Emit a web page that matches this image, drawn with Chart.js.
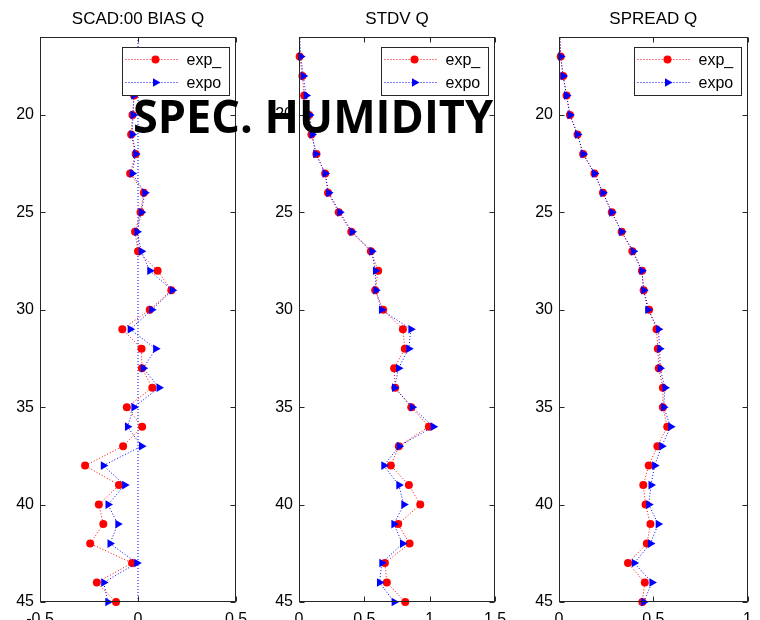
<!DOCTYPE html>
<html><head><meta charset="utf-8">
<script src="https://cdn.jsdelivr.net/npm/chart.js@4.4.1/dist/chart.umd.min.js"></script>
<style>
html,body{margin:0;padding:0;background:#fff;overflow:hidden;width:760px;height:620px}
canvas{position:absolute;left:0;top:0;width:760px;height:620px}
</style></head><body>
<canvas id="c1" width="760" height="620"></canvas>
<canvas id="c2" width="760" height="620"></canvas>
<canvas id="c3" width="760" height="620"></canvas>
<script>
// ---------- data ----------
const levels = [17,18,19,20,21,22,23,24,25,26,27,28,29,30,31,32,33,34,35,36,37,38,39,40,41,42,43,44,45];
const leadLevel = 15; // line enters from above the plot top in panels 2 and 3
const leadValue = 0;

const biasExp  = [-0.01,-0.02,-0.02,-0.028,-0.035,-0.012,-0.04,0.03,0.013,-0.015,0.0,0.10,0.17,0.06,-0.08,0.018,0.02,0.073,-0.057,0.021,-0.076,-0.27,-0.097,-0.20,-0.177,-0.244,-0.03,-0.21,-0.112];
const biasExpo = [-0.01,-0.015,-0.021,-0.025,-0.03,-0.012,-0.03,0.035,0.017,-0.005,0.017,0.06,0.175,0.07,-0.04,0.09,0.027,0.107,-0.021,-0.054,0.018,-0.177,-0.068,-0.153,-0.103,-0.143,-0.006,-0.175,-0.154];

const stdvExp  = [0.005,0.026,0.04,0.077,0.095,0.133,0.2,0.222,0.304,0.40,0.55,0.606,0.583,0.644,0.795,0.81,0.728,0.736,0.859,0.994,0.764,0.703,0.841,0.928,0.759,0.846,0.657,0.672,0.813];
const stdvExpo = [0.013,0.033,0.054,0.082,0.10,0.128,0.2,0.227,0.312,0.406,0.557,0.585,0.588,0.631,0.856,0.84,0.762,0.731,0.866,1.027,0.767,0.649,0.764,0.802,0.726,0.792,0.634,0.616,0.728];

const sprdExp  = [0.009,0.022,0.04,0.058,0.098,0.128,0.188,0.233,0.28,0.332,0.389,0.44,0.449,0.478,0.517,0.524,0.529,0.551,0.551,0.574,0.522,0.476,0.447,0.459,0.485,0.466,0.366,0.455,0.442];
const sprdExpo = [0.009,0.022,0.04,0.058,0.098,0.128,0.188,0.233,0.28,0.332,0.394,0.44,0.449,0.471,0.527,0.534,0.536,0.562,0.555,0.592,0.545,0.507,0.488,0.476,0.526,0.485,0.399,0.493,0.449];

const zeroLineX = [0, 0];
const zeroLineY = [16, 45];

const yTicks = [20,25,30,35,40,45];
const xTicks1 = [-0.5,0,0.5];
const xTicks2 = [0,0.5,1,1.5];
const xTicks3 = [0,0.5,1];
const titles = ['SCAD:00 BIAS Q','STDV Q','SPREAD Q'];
const seriesNames = ['exp_','expo'];
const overlayText = 'SPEC. HUMIDITY';

// ---------- rendering ----------
const FONT = "'Liberation Sans', Arial, Helvetica, sans-serif";
const RED = '#ff0000', BLUE = '#0000ff';
const CLIP = {left:false, right:false, top:0, bottom:false};

function pts(xs, ys){ return xs.map((v,i)=>({x:v, y:ys[i]})); }

function dsExp(vals, lead){
  const ys = lead ? [leadLevel].concat(levels) : levels;
  const xs = lead ? [leadValue].concat(vals) : vals;
  return {label:seriesNames[0], data:pts(xs,ys), showLine:true, borderColor:RED, borderWidth:1, borderDash:[1,2],
    pointStyle:'circle', pointRadius:4, pointBackgroundColor:RED, pointBorderColor:RED, pointBorderWidth:0, order:2, clip:CLIP};
}
function dsExpo(vals, lead){
  const ys = lead ? [leadLevel].concat(levels) : levels;
  const xs = lead ? [leadValue].concat(vals) : vals;
  return {label:seriesNames[1], data:pts(xs,ys), showLine:true, borderColor:BLUE, borderWidth:1, borderDash:[1,2],
    pointStyle:'triangle', pointRotation:90, pointRadius:5, pointBackgroundColor:BLUE, pointBorderColor:BLUE, pointBorderWidth:0, order:1, clip:CLIP};
}

function panelPlugin(title, xTicks, big){
  return {
    id:'panelDeco',
    afterDatasetsDraw(chart){
      const {ctx, chartArea:a, scales:{x,y}} = chart;
      ctx.save();
      ctx.strokeStyle = '#262626'; ctx.lineWidth = 1; ctx.setLineDash([]);
      const L = Math.round(a.left)+0.5, R = Math.round(a.right)-0.5, T = Math.round(a.top)+0.5, B = Math.round(a.bottom)-0.5;
      ctx.strokeRect(L, T, R-L, B-T);
      ctx.beginPath();
      yTicks.forEach(v=>{ const py = Math.round(y.getPixelForValue(v))+0.5; ctx.moveTo(L,py); ctx.lineTo(L+5,py); ctx.moveTo(R,py); ctx.lineTo(R-5,py); });
      xTicks.forEach(v=>{ const px = Math.round(x.getPixelForValue(v))+0.5; ctx.moveTo(px,T); ctx.lineTo(px,T+5); ctx.moveTo(px,B); ctx.lineTo(px,B-5); });
      ctx.stroke();
      // legend
      const bw = 107, bh = 48;
      const bx = Math.round(a.right) - 7 - bw + 0.5, by = Math.round(a.top) + 10 + 0.5;
      ctx.fillStyle = '#fff';
      ctx.fillRect(bx, by, bw, bh);
      ctx.strokeStyle = '#262626';
      ctx.strokeRect(bx, by, bw, bh);
      const rows = [by+11.5, by+34];
      seriesNames.forEach((name,i)=>{
        const d = chart.data.datasets.find(s=>s.label===name);
        if (!d) return;
        const ry = Math.round(rows[i]) + 0.5;
        ctx.save();
        ctx.strokeStyle = d.borderColor; ctx.lineWidth = 1; ctx.setLineDash([1,2]);
        ctx.beginPath(); ctx.moveTo(bx+3, ry); ctx.lineTo(bx+57, ry); ctx.stroke();
        ctx.restore();
        ctx.save();
        ctx.fillStyle = d.pointBackgroundColor; ctx.strokeStyle = d.pointBorderColor;
        Chart.helpers.drawPoint(ctx, {pointStyle:d.pointStyle, rotation:d.pointRotation||0, radius:d.pointRadius, borderWidth:0}, bx+33, ry);
        ctx.restore();
        ctx.fillStyle = '#000'; ctx.font = '16px ' + FONT; ctx.textBaseline = 'middle'; ctx.textAlign = 'left';
        ctx.fillText(d.label, bx+64, ry+1);
      });
      ctx.restore();
    },
    afterDraw(chart){
      const {ctx, chartArea:a} = chart;
      ctx.save();
      ctx.fillStyle = '#000'; ctx.font = '17px ' + FONT; ctx.textAlign = 'center'; ctx.textBaseline = 'alphabetic';
      ctx.fillText(title, (a.left+a.right)/2, 24);
      if (big){
        ctx.font = "bold 46px 'Open Sans', 'DejaVu Sans', sans-serif";
        ctx.textAlign = 'left';
        const w = ctx.measureText(overlayText).width;
        const target = 360;
        ctx.translate(133, 133);
        ctx.scale(target/w, 1);
        ctx.fillText(overlayText, 0, 0);
      }
      ctx.restore();
    }
  };
}

function makeChart(id, datasets, xMin, xMax, xTicks, left, right, title, big){
  return new Chart(document.getElementById(id), {
    type:'scatter',
    data:{datasets},
    options:{
      responsive:false, animation:false, devicePixelRatio:1,
      layout:{padding:{left:left-40, right:760-right, top:37, bottom:0}},
      scales:{
        x:{type:'linear', position:'bottom', min:xMin, max:xMax,
           afterBuildTicks:s=>{ s.ticks = xTicks.map(v=>({value:v})); },
           afterFit:s=>{ s.height = 18; },
           ticks:{autoSkip:false, maxRotation:0, padding:8, color:'#000', font:{family:FONT, size:16}, callback:v=>String(v)},
           grid:{display:false, drawTicks:false}, border:{display:false}},
        y:{type:'linear', position:'left', reverse:true, min:16, max:45,
           afterBuildTicks:s=>{ s.ticks = yTicks.map(v=>({value:v})); },
           afterFit:s=>{ s.width = 40; },
           ticks:{autoSkip:false, padding:6, color:'#000', font:{family:FONT, size:16}, callback:v=>String(v)},
           grid:{display:false, drawTicks:false}, border:{display:false}}
      },
      plugins:{legend:{display:false}, tooltip:{enabled:false}, title:{display:false}}
    },
    plugins:[panelPlugin(title, xTicks, big)]
  });
}

makeChart('c1', [
  dsExp(biasExp,false), dsExpo(biasExpo,false),
  {data:pts(zeroLineX, zeroLineY), showLine:true, borderColor:BLUE, borderWidth:1, borderDash:[1,2], pointRadius:0, order:3}
], -0.5, 0.5, xTicks1, 40, 236, titles[0], false);
makeChart('c2', [dsExp(stdvExp,true), dsExpo(stdvExpo,true)], 0, 1.5, xTicks2, 299, 495, titles[1], false);
makeChart('c3', [dsExp(sprdExp,true), dsExpo(sprdExpo,true)], 0, 1, xTicks3, 559, 755, titles[2], true);
</script>
</body></html>
